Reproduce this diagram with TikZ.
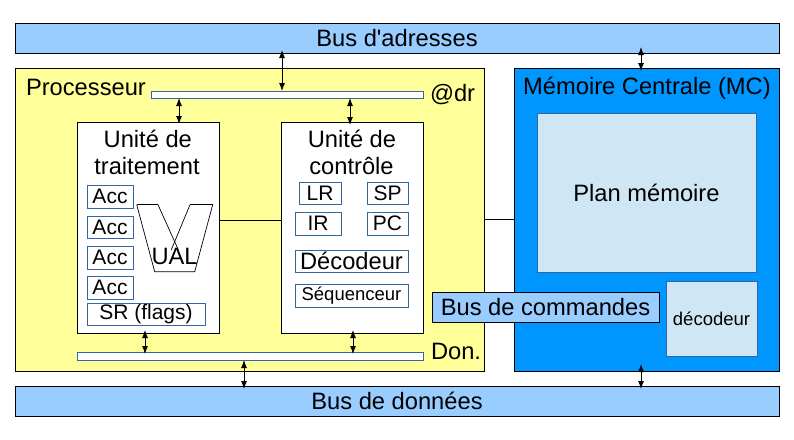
\documentclass[tikz,border=0pt]{standalone}
\usepackage{fontspec}
\setmainfont{Liberation Sans}
\usetikzlibrary{arrows.meta}
\definecolor{busblue}{HTML}{99CCFF}
\definecolor{procyellow}{HTML}{FFFF99}
\definecolor{memblue}{HTML}{0096FF}
\definecolor{planblue}{HTML}{CFE7F5}
\definecolor{regblue}{HTML}{3465A4}
\tikzset{
  bigtxt/.style={font=\fontsize{23.7}{28}\selectfont},
  regtxt/.style={font=\fontsize{21}{25}\selectfont},
  smalltxt/.style={font=\fontsize{18.5}{22}\selectfont},
  blackbox/.style={draw=black, line width=1pt, rectangle, inner sep=0pt, outer sep=0pt},
  regbox/.style={draw=regblue, line width=1pt, fill=white, rectangle, inner sep=0pt, outer sep=0pt},
  lbl/.style={inner sep=0pt, outer sep=0pt},
  biarrow/.style={line width=0.9pt, {Latex[length=8pt,width=6pt]}-{Latex[length=8pt,width=6pt]}},
  plainline/.style={line width=1pt},
}
\begin{document}
\begin{tikzpicture}[x=1pt,y=-1pt]
\useasboundingbox (0,0) rectangle (794,439);
\fill[white] (0,0) rectangle (794,439);

% buses
\node[blackbox, fill=busblue, minimum width=764, minimum height=30, bigtxt] (busA) at (397,38) {Bus d\textquotesingle adresses};
\node[blackbox, fill=busblue, minimum width=764, minimum height=30, bigtxt] (busD) at (397,401) {Bus de données};

% processor and memory
\node[blackbox, fill=procyellow, minimum width=469, minimum height=303] (proc) at (249.5,219.5) {};
\node[blackbox, fill=memblue, minimum width=265, minimum height=303] (mem) at (646.5,219.5) {};

\node[lbl, bigtxt, anchor=base west] (proclbl) at (26,95) {Processeur};
\node[lbl, bigtxt, anchor=base] (memlbl) at (647,94.5) {Mémoire Centrale (MC)};

% internal buses
\node[regbox, minimum width=272, minimum height=7] (adrbus) at (287,94.5) {};
\node[regbox, minimum width=346, minimum height=8] (donbus) at (250,356) {};
\node[lbl, bigtxt, anchor=base west] (adrlbl) at (430,101.5) {@dr};
\node[lbl, bigtxt, anchor=base west] (donlbl) at (431,359) {Don.};

% units
\node[blackbox, fill=white, minimum width=142, minimum height=211] (ut) at (148,227.5) {};
\node[blackbox, fill=white, minimum width=142, minimum height=211] (cu) at (352,227.5) {};
\node[lbl, bigtxt, anchor=base] (ut1) at (147.8,147.3) {Unité de};
\node[lbl, bigtxt, anchor=base] (ut2) at (147,174.7) {traitement};
\node[lbl, bigtxt, anchor=base] (cu1) at (352,147.3) {Unité de};
\node[lbl, bigtxt, anchor=base] (cu2) at (351.5,174.7) {contrôle};

% registers of UT
\node[regbox, regtxt, minimum width=46, minimum height=23] (acc1) at (110,196.5) {Acc};
\node[regbox, regtxt, minimum width=46, minimum height=22] (acc2) at (110,227) {Acc};
\node[regbox, regtxt, minimum width=46, minimum height=23] (acc3) at (110,257.5) {Acc};
\node[regbox, regtxt, minimum width=46, minimum height=23] (acc4) at (110,287.5) {Acc};
\node[regbox, regtxt, minimum width=118, minimum height=22] (sr) at (146,314) {SR (flags)};

% UAL
\draw[line width=0.7pt] (136.7,204.7) -- (158,204.7);
\draw[line width=0.7pt] (190,204.7) -- (212.7,204.7);
\draw[line width=0.7pt] (136.7,204.7) -- (154.7,271.7) -- (194.7,271.7) -- (212.7,204.7);
\draw[line width=0.7pt] (158,204.7) -- (178.4,250);
\draw[line width=0.7pt] (190,204.7) -- (171.2,250);
\node[lbl, bigtxt, anchor=base] (ual) at (174.6,264) {UAL};

% registers of CU
\node[regbox, regtxt, minimum width=42, minimum height=22] (lr) at (320,193) {LR};
\node[regbox, regtxt, minimum width=41, minimum height=22] (sp) at (387.5,193) {SP};
\node[regbox, regtxt, minimum width=46, minimum height=23] (ir) at (318,223.5) {IR};
\node[regbox, regtxt, minimum width=41, minimum height=23] (pc) at (387.5,223.5) {PC};
\node[regbox, bigtxt, minimum width=113, minimum height=22] (dec) at (351.5,261) {Décodeur};
\node[regbox, smalltxt, minimum width=113, minimum height=23] (seq) at (351.5,295.5) {Séquenceur};

% memory parts
\node[regbox, fill=planblue, bigtxt, minimum width=219, minimum height=159] (plan) at (646.5,192.5) {Plan mémoire};
\node[regbox, fill=planblue, smalltxt, minimum width=91, minimum height=75] (mdec) at (711.5,318.5) {décodeur};
\node[blackbox, fill=busblue, bigtxt, minimum width=227, minimum height=30] (busC) at (545.5,307) {Bus de commandes};

% plain links
\draw[plainline] ([yshift=7.5pt]ut.east) -- ([yshift=7.5pt]cu.west);
\draw[plainline] (proc.east) -- (mem.west);

% bidirectional arrows
\draw[biarrow, shorten <=-3pt] (busA.south -| 282,0) -- (adrbus.north -| 282,0);
\draw[biarrow, shorten >=-2pt] (adrbus.south -| 179,0) -- (ut.north -| 179,0);
\draw[biarrow, shorten >=-3pt] (adrbus.south -| 350,0) -- (cu.north -| 350,0);
\draw[biarrow, shorten <=-3pt, shorten >=-2pt] (ut.south -| 145,0) -- (donbus.north -| 145,0);
\draw[biarrow, shorten <=-3pt, shorten >=-2pt] (cu.south -| 353,0) -- (donbus.north -| 353,0);
\draw[biarrow, shorten >=-3pt] (donbus.south -| 244,0) -- (busD.north -| 244,0);
\draw[biarrow, shorten <=-6pt, shorten >=-3pt] (busA.south -| 641,0) -- (mem.north -| 641,0);
\draw[biarrow, shorten <=-7pt, shorten >=-3pt] (mem.south -| 641,0) -- (busD.north -| 641,0);
\end{tikzpicture}
\end{document}
